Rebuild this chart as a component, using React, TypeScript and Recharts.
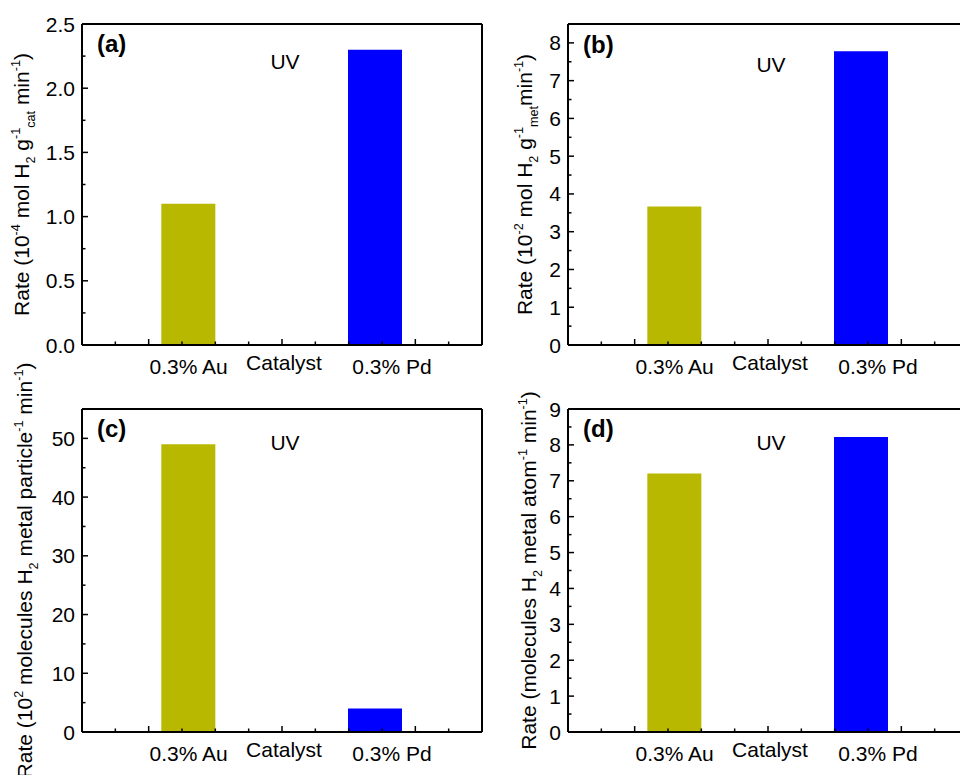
import React from 'react';
import { BarChart, Bar, XAxis, YAxis, Cell, Customized } from 'recharts';

// catalysts and where their bars sit on the (hidden) numeric x axis
const catalysts = ['0.3% Au', '0.3% Pd'];
const barX = [3.2, 8.8];
const barColors = ['#B8B800', '#0000FF'];

// x axis tick marks and the text under the axis
const xTicks = [0, 1, 2, 3, 4, 5, 6, 7, 8, 9, 10, 11, 12];
const xMajor = [2, 6, 10];
const xLabelPos = [3.2, 6.06, 9.3];
const xLabelText = ['0.3% Au', 'Catalyst', '0.3% Pd'];

// rates
const rateCat = [1.1, 2.3]; // (a) 10^-4 mol H2 g_cat^-1 min^-1
const rateMet = [3.67, 7.78]; // (b) 10^-2 mol H2 g_met^-1 min^-1
const ratePart = [49, 4]; // (c) 10^2 molecules H2 particle^-1 min^-1
const rateAtom = [7.2, 8.22]; // (d) molecules H2 atom^-1 min^-1

const yMajorA = [0, 0.5, 1, 1.5, 2, 2.5];
const yMinorA = [0.25, 0.75, 1.25, 1.75, 2.25];
const yMajorB = [0, 1, 2, 3, 4, 5, 6, 7, 8];
const yMinorB = [0.5, 1.5, 2.5, 3.5, 4.5, 5.5, 6.5, 7.5, 8.5];
const yMajorC = [0, 10, 20, 30, 40, 50];
const yMinorC = [5, 15, 25, 35, 45, 55];
const yMajorD = [0, 1, 2, 3, 4, 5, 6, 7, 8, 9];
const yMinorD = [0.5, 1.5, 2.5, 3.5, 4.5, 5.5, 6.5, 7.5, 8.5];

const FONT = '"Liberation Sans", Arial, sans-serif';
const RW = 8;
const TH = 8;

type Part = { t: string; k?: 'sup' | 'sub' };

const titleA: Part[] = [
    { t: 'Rate (10' }, { t: '-4', k: 'sup' }, { t: ' mol H' }, { t: '2', k: 'sub' }, { t: ' g' },
    { t: '-1', k: 'sup' }, { t: 'cat', k: 'sub' }, { t: ' min' }, { t: '-1', k: 'sup' }, { t: ')' },
];
const titleB: Part[] = [
    { t: 'Rate (10' }, { t: '-2', k: 'sup' }, { t: ' mol H' }, { t: '2', k: 'sub' }, { t: ' g' },
    { t: '-1', k: 'sup' }, { t: 'met', k: 'sub' }, { t: 'min' }, { t: '-1', k: 'sup' }, { t: ')' },
];
const titleC: Part[] = [
    { t: 'Rate (10' }, { t: '2', k: 'sup' }, { t: ' molecules H' }, { t: '2', k: 'sub' }, { t: ' metal particle' },
    { t: '-1', k: 'sup' }, { t: ' min' }, { t: '-1', k: 'sup' }, { t: ')' },
];
const titleD: Part[] = [
    { t: 'Rate (molecules H' }, { t: '2', k: 'sub' }, { t: ' metal atom' },
    { t: '-1', k: 'sup' }, { t: ' min' }, { t: '-1', k: 'sup' }, { t: ')' },
];

function RotatedTitle({ x, y, parts }: { x: number; y: number; parts: Part[] }) {
    const fs = 21;
    let shift = 0;
    const spans = parts.map((p, i) => {
        const target = p.k === 'sup' ? -0.42 * fs : p.k === 'sub' ? 0.28 * fs : 0;
        const dy = target - shift;
        shift = target;
        return (
            <tspan key={i} dy={dy} fontSize={p.k ? fs * 0.6 : fs}>
                {p.t}
            </tspan>
        );
    });
    return (
        <text x={x} y={y} transform={`rotate(-90 ${x} ${y})`} textAnchor="middle" fontFamily={FONT} fill="#000">
            {spans}
        </text>
    );
}

type PanelProps = {
    x0: number;
    y0: number;
    h: number;
    plot: { l: number; t: number; r: number; b: number };
    values: number[];
    yMax: number;
    yMajor: number[];
    yMinor: number[];
    fmt: (v: number) => string;
    letter: string;
    letterY: number;
    uvY: number;
    title: Part[];
    titleX: number;
};

function Panel(p: PanelProps) {
    const { x0, y0, h, plot } = p;
    const width = plot.r - x0 + RW;
    const data = barX.map((x, i) => ({ x, rate: p.values[i], name: catalysts[i] }));
    const yTicks = [...p.yMajor, ...p.yMinor];
    const leftW = plot.l - x0;
    const bottomH = h - (plot.b - y0);
    const titleY = (plot.t + plot.b) / 2 - y0;

    const bottomTick = (tp: any) => {
        const v = tp.payload.value;
        const li = xLabelPos.indexOf(v);
        if (li >= 0) {
            const dy = xLabelText[li] === 'Catalyst' ? 25 : 29;
            return (
                <text x={tp.x} y={tp.y + dy} textAnchor="middle" fontSize={21} fontFamily={FONT} fill="#000">
                    {xLabelText[li]}
                </text>
            );
        }
        const len = xMajor.includes(v) ? 6 : 3.5;
        return <line x1={tp.x} x2={tp.x} y1={tp.y} y2={tp.y - len} stroke="#000" strokeWidth={1.5} />;
    };
    const topTick = (tp: any) => {
        const len = xMajor.includes(tp.payload.value) ? 6 : 3.5;
        return <line x1={tp.x} x2={tp.x} y1={tp.y} y2={tp.y + len} stroke="#000" strokeWidth={1.5} />;
    };
    const leftTick = (tp: any) => {
        const v = tp.payload.value;
        const major = p.yMajor.includes(v);
        return (
            <g>
                <line x1={tp.x} x2={tp.x + (major ? 6 : 3.5)} y1={tp.y} y2={tp.y} stroke="#000" strokeWidth={1.5} />
                {major && (
                    <text x={tp.x - 7} y={tp.y + 7.5} textAnchor="end" fontSize={21} fontFamily={FONT} fill="#000">
                        {p.fmt(v)}
                    </text>
                )}
            </g>
        );
    };
    const rightTick = (tp: any) => {
        const major = p.yMajor.includes(tp.payload.value);
        return <line x1={tp.x} x2={tp.x - (major ? 6 : 3.5)} y1={tp.y} y2={tp.y} stroke="#000" strokeWidth={1.5} />;
    };

    const axisLine = { stroke: '#000', strokeWidth: 2 };

    return (
        <div style={{ position: 'absolute', left: x0, top: y0 }}>
            <BarChart
                width={width}
                height={h}
                data={data}
                margin={{ top: plot.t - y0 - TH, right: 0, bottom: 0, left: 0 }}
            >
                <Bar dataKey="rate" barSize={54} isAnimationActive={false}>
                    {data.map((_, i) => (
                        <Cell key={`c-${i}`} fill={barColors[i]} />
                    ))}
                </Bar>
                <XAxis
                    dataKey="x"
                    type="number"
                    domain={[0, 12]}
                    ticks={[...xTicks, ...xLabelPos]}
                    interval={0}
                    tickSize={0}
                    tickMargin={0}
                    height={bottomH}
                    axisLine={axisLine}
                    tick={bottomTick}
                />
                <XAxis
                    xAxisId="top"
                    orientation="top"
                    type="number"
                    domain={[0, 12]}
                    ticks={xTicks}
                    interval={0}
                    tickSize={0}
                    tickMargin={0}
                    height={TH}
                    axisLine={axisLine}
                    tick={topTick}
                />
                <YAxis
                    type="number"
                    domain={[0, p.yMax]}
                    ticks={yTicks}
                    interval={0}
                    tickSize={0}
                    tickMargin={0}
                    width={leftW}
                    axisLine={axisLine}
                    tick={leftTick}
                />
                <YAxis
                    yAxisId="right"
                    orientation="right"
                    type="number"
                    domain={[0, p.yMax]}
                    ticks={yTicks}
                    interval={0}
                    tickSize={0}
                    tickMargin={0}
                    width={RW}
                    axisLine={axisLine}
                    tick={rightTick}
                />
                <Customized
                    component={() => (
                        <g>
                            <text x={plot.l - x0 + 15} y={p.letterY - y0} fontSize={24} fontWeight="bold" fontFamily={FONT} fill="#000">
                                {p.letter}
                            </text>
                            <text x={plot.l - x0 + 203} y={p.uvY - y0} fontSize={21} textAnchor="middle" fontFamily={FONT} fill="#000">
                                UV
                            </text>
                            <RotatedTitle x={p.titleX - x0} y={titleY} parts={p.title} />
                        </g>
                    )}
                />
            </BarChart>
        </div>
    );
}

export default function App() {
    return (
        <div style={{ position: 'absolute', left: 0, top: 0, width: 960, height: 775, overflow: 'hidden', background: '#fff' }}>
            <Panel
                x0={0} y0={0} h={388}
                plot={{ l: 82, t: 24, r: 482, b: 345 }}
                values={rateCat} yMax={2.5} yMajor={yMajorA} yMinor={yMinorA}
                fmt={(v) => v.toFixed(1)}
                letter="(a)" letterY={52} uvY={69} title={titleA} titleX={29}
            />
            <Panel
                x0={480} y0={0} h={388}
                plot={{ l: 568, t: 24, r: 968, b: 345 }}
                values={rateMet} yMax={8.5} yMajor={yMajorB} yMinor={yMinorB}
                fmt={(v) => String(v)}
                letter="(b)" letterY={53} uvY={72} title={titleB} titleX={532}
            />
            <Panel
                x0={0} y0={350} h={425}
                plot={{ l: 82, t: 409, r: 482, b: 732 }}
                values={ratePart} yMax={55} yMajor={yMajorC} yMinor={yMinorC}
                fmt={(v) => String(v)}
                letter="(c)" letterY={437} uvY={450} title={titleC} titleX={32}
            />
            <Panel
                x0={480} y0={350} h={425}
                plot={{ l: 568, t: 409, r: 968, b: 732 }}
                values={rateAtom} yMax={9} yMajor={yMajorD} yMinor={yMinorD}
                fmt={(v) => String(v)}
                letter="(d)" letterY={437} uvY={450} title={titleD} titleX={536}
            />
        </div>
    );
}
